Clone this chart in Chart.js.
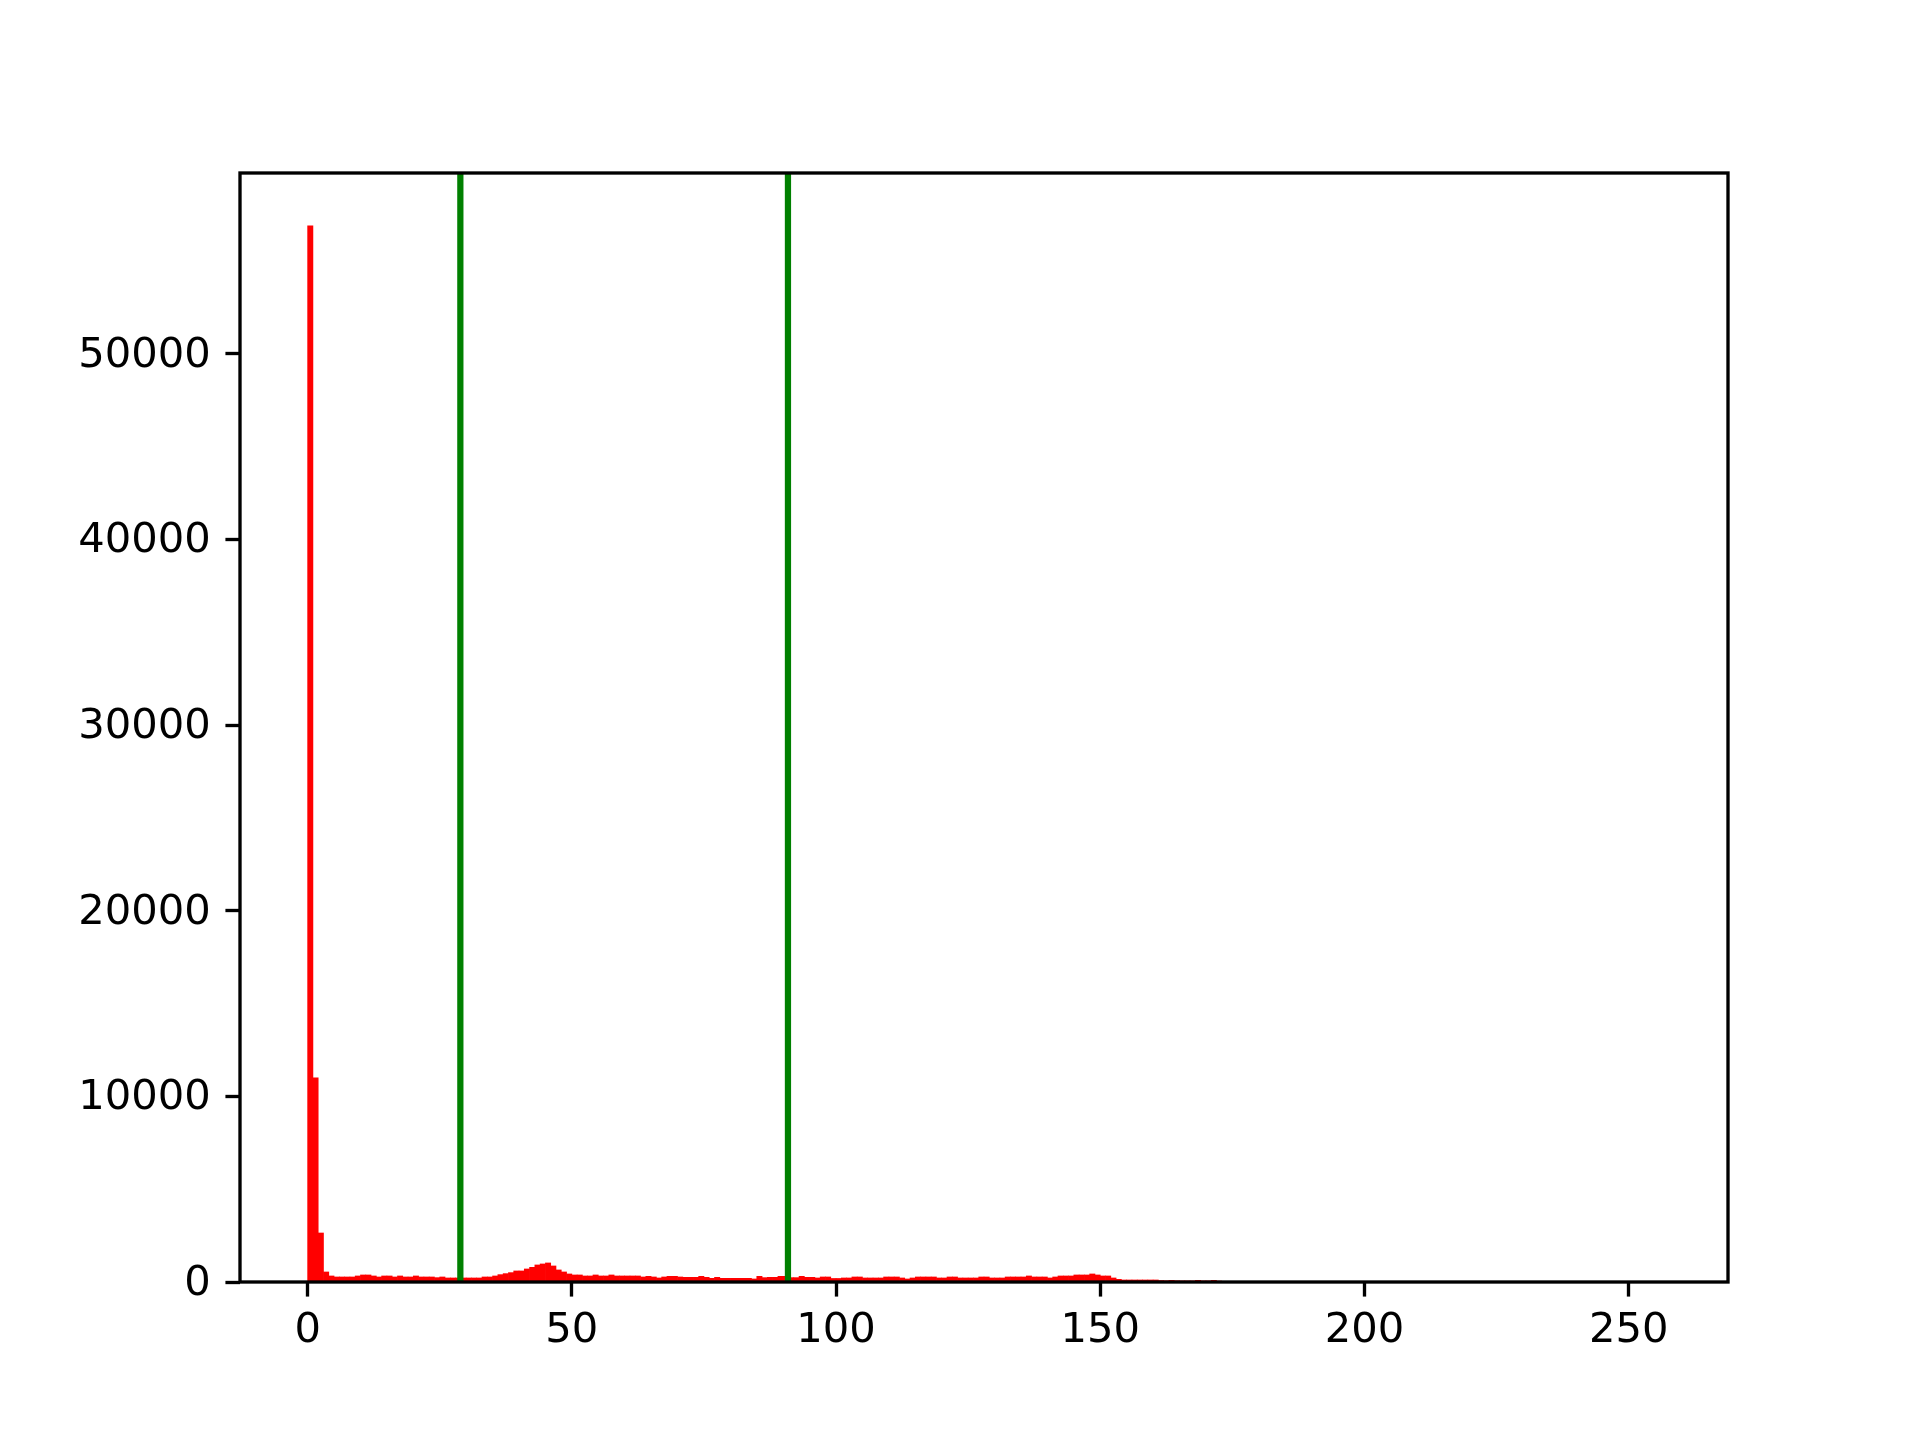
<!DOCTYPE html>
<html>
<head>
<meta charset="utf-8">
<script src="https://cdn.jsdelivr.net/npm/chart.js@4/dist/chart.umd.min.js"></script>
<style>
  body { margin: 0; background: #fff; }
  canvas { display: block; }
</style>
</head>
<body>
<canvas id="grafico" width="1920" height="1440"></canvas>
<script>
// histogram counts, one per bin [i, i+1), 256 bins
const counts = [
  56900, 11000, 2640, 540, 325, 271, 271, 271, 271, 325,
  379, 379, 325, 271, 325, 325, 271, 325, 271, 271,
  325, 271, 271, 271, 235, 271, 217, 217, 217, 217,
  217, 217, 217, 271, 271, 325, 397, 451, 505, 595,
  595, 702, 792, 918, 972, 1026, 864, 649, 541, 433,
  379, 379, 325, 325, 379, 325, 325, 379, 325, 325,
  325, 325, 325, 271, 307, 271, 217, 271, 307, 307,
  271, 253, 253, 253, 307, 253, 199, 253, 199, 199,
  199, 199, 199, 199, 163, 307, 235, 253, 253, 307,
  307, 235, 235, 307, 253, 253, 217, 271, 271, 190,
  190, 217, 217, 271, 271, 217, 217, 217, 217, 271,
  271, 271, 217, 163, 217, 271, 271, 271, 271, 217,
  217, 271, 271, 217, 217, 217, 217, 271, 271, 217,
  217, 217, 271, 271, 271, 271, 325, 271, 271, 271,
  217, 271, 325, 325, 325, 379, 379, 379, 433, 379,
  325, 325, 217, 145, 109, 109, 109, 109, 109, 109,
  109, 80, 70, 90, 70, 60, 60, 60, 90, 60,
  60, 90, 50, 20, 20, 20, 20, 20, 20, 20,
  20, 10, 10, 5, 5, 5, 5, 5, 5, 5,
  0, 0, 0, 0, 0, 0, 0, 0, 0, 0,
  0, 0, 0, 0, 0, 0, 0, 0, 0, 0,
  0, 0, 0, 0, 0, 0, 0, 0, 0, 0,
  0, 0, 0, 0, 0, 0, 0, 0, 0, 0,
  0, 0, 0, 0, 0, 0, 0, 0, 0, 0,
  0, 0, 0, 0, 0, 0, 0, 0, 0, 0,
  0, 0, 0, 0, 0, 0
];
const limiares = [28.9, 90.9];          // green vertical lines
const xTicks = [0, 50, 100, 150, 200, 250];
const yTicks = [0, 10000, 20000, 30000, 40000, 50000];
const xMin = -12.8, xMax = 268.8;
const yMax = 59745;

const pts = 300 / 72;                  // matplotlib points -> px at 300 dpi
const fonte = { family: 'DejaVu Sans', size: 10 * pts };

const barras = counts.map((v, i) => ({ x: i + 0.5, y: v }));
const linhas = limiares.map(t => ({
  type: 'line',
  data: [{ x: t, y: 0 }, { x: t, y: yMax }],
  borderColor: '#008000',
  borderWidth: 1.5 * pts,
  pointRadius: 0,
  order: 0
}));

const moldura = {
  id: 'moldura',
  afterDraw(chart) {
    const { ctx, chartArea: a } = chart;
    ctx.save();
    ctx.strokeStyle = '#000';
    ctx.lineWidth = 0.8 * pts;
    ctx.strokeRect(a.left, a.top, a.right - a.left, a.bottom - a.top);
    ctx.restore();
  }
};

const eixo = (ticks, pad, desloc) => ({
  offset: false,
  grid: { display: true, offset: false, drawOnChartArea: false, drawTicks: true, tickLength: 3.5 * pts, tickColor: '#000', tickWidth: 0.8 * pts },
  border: { display: false },
  ticks: { color: '#000', font: fonte, padding: pad, labelOffset: desloc, maxRotation: 0, autoSkip: false, callback: v => String(v) },
  afterBuildTicks: s => { s.ticks = ticks.map(v => ({ value: v })); }
});

new Chart(document.getElementById('grafico'), {
  type: 'bar',
  data: {
    datasets: [
      ...linhas,
      { type: 'bar', data: barras, backgroundColor: '#ff0000', borderWidth: 0, barPercentage: 1, categoryPercentage: 1, order: 1 }
    ]
  },
  options: {
    responsive: false,
    animation: false,
    devicePixelRatio: 1,
    layout: { padding: { top: 173, right: 192, left: 0, bottom: 0 } },
    plugins: { legend: { display: false }, tooltip: { enabled: false } },
    scales: {
      x: { type: 'linear', min: xMin, max: xMax, ...eixo(xTicks, 3.5 * pts - 5, 0), afterFit: s => { s.height = 158; } },
      y: { type: 'linear', min: 0, max: yMax, ...eixo(yTicks, 3.5 * pts, 2), afterFit: s => { s.width = 240; } }
    }
  },
  plugins: [moldura]
});
</script>
</body>
</html>
